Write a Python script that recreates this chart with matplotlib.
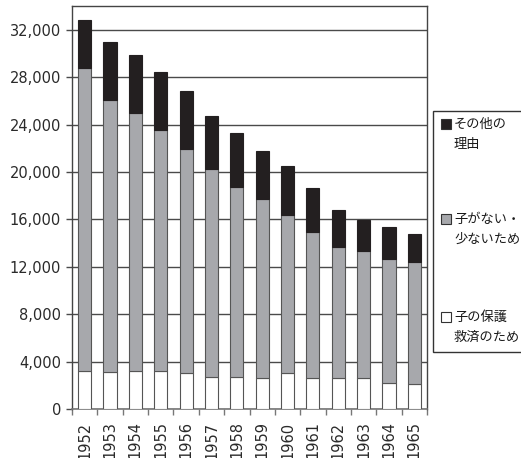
import matplotlib
matplotlib.use('Agg')
import matplotlib.pyplot as plt
from matplotlib.patches import Rectangle

plt.rcParams['font.family'] = ['DejaVu Sans']

years = ['1952', '1953', '1954', '1955', '1956', '1957', '1958',
         '1959', '1960', '1961', '1962', '1963', '1964', '1965']
# 子の保護救済のため (bottom, white)
protect = [3210, 3120, 3210, 3210, 3070, 2700, 2700, 2620, 3010, 2620, 2620, 2620, 2200, 2110]
# 子がない・少ないため (middle, gray)
few_children = [25520, 22970, 21760, 20290, 18880, 17590, 16070, 15060, 13390, 12350, 11080, 10720, 10470, 10300]
# その他の理由 (top, black)
other = [4110, 4840, 4860, 4950, 4840, 4420, 4530, 4100, 4060, 3660, 3080, 2620, 2720, 2370]

yticks = [0, 4000, 8000, 12000, 16000, 20000, 24000, 28000, 32000]
legend_labels = [('その他の', '理由'), ('子がない・', '少ないため'), ('子の保護', '救済のため')]

black = '#231f20'
gray = '#a7a8ac'
edge = '#555555'

W, H = 521, 458
fig = plt.figure(figsize=(W / 100, H / 100), dpi=100)
ax = fig.add_axes([72 / W, 1 - 409 / H, (427 - 72) / W, (409 - 6) / H])

x = list(range(len(years)))
mid_bottom = protect
top_bottom = [a + b for a, b in zip(protect, few_children)]
ax.bar(x, protect, width=0.52, color='white', edgecolor=edge, linewidth=0.8, zorder=3)
ax.bar(x, few_children, width=0.52, bottom=mid_bottom, color=gray, edgecolor=edge, linewidth=0.8, zorder=3)
ax.bar(x, other, width=0.52, bottom=top_bottom, color=black, edgecolor=black, linewidth=0.8, zorder=3)

ax.set_xlim(-0.5, len(years) - 0.5)
ax.set_ylim(0, 34000)
ax.set_yticks(yticks)
ax.set_yticklabels([f'{v:,}' for v in yticks], fontsize=10.5, color='#2a2a2a')
ax.yaxis.grid(True, color='#4a4a4a', linewidth=1.0, zorder=0)
ax.tick_params(axis='y', length=4, width=1, color='#4a4a4a', pad=4)

ax.set_xticks(x)
ax.set_xticklabels(years, rotation=90, fontsize=10.5, color='#2a2a2a')
ax.set_xticks([i - 0.5 for i in range(len(years) + 1)], minor=True)
ax.tick_params(axis='x', which='major', length=0, pad=9)
ax.tick_params(axis='x', which='minor', length=4, width=1, color='#777777')

for s in ['left', 'top', 'right']:
    ax.spines[s].set_color('#444444')
    ax.spines[s].set_linewidth(1)
ax.spines['bottom'].set_color('#777777')
ax.spines['bottom'].set_linewidth(1.2)

# legend box, cut off at the right edge
fig.add_artist(Rectangle((433 / W, 1 - 352 / H), 0.3, (352 - 111) / H,
                         transform=fig.transFigure, facecolor='white',
                         edgecolor='#333333', linewidth=1))
swatches = [black, gray, 'white']
line_y = [(124, 144), (219, 239), (317, 337)]
for col, (l1, l2), (y1, y2) in zip(swatches, legend_labels, line_y):
    fig.add_artist(Rectangle((441 / W, 1 - (y1 + 5) / H), 10 / W, 10 / H,
                             transform=fig.transFigure, facecolor=col,
                             edgecolor='#333333', linewidth=0.8))
    fig.text(454 / W, 1 - y1 / H, l1, fontsize=9.5, va='center', ha='left',
             family=['Noto Sans CJK JP', 'DejaVu Sans'], color='#1a1a1a')
    fig.text(454 / W, 1 - y2 / H, l2, fontsize=9.5, va='center', ha='left',
             family=['Noto Sans CJK JP', 'DejaVu Sans'], color='#1a1a1a')

fig.savefig('out.png', dpi=100)
